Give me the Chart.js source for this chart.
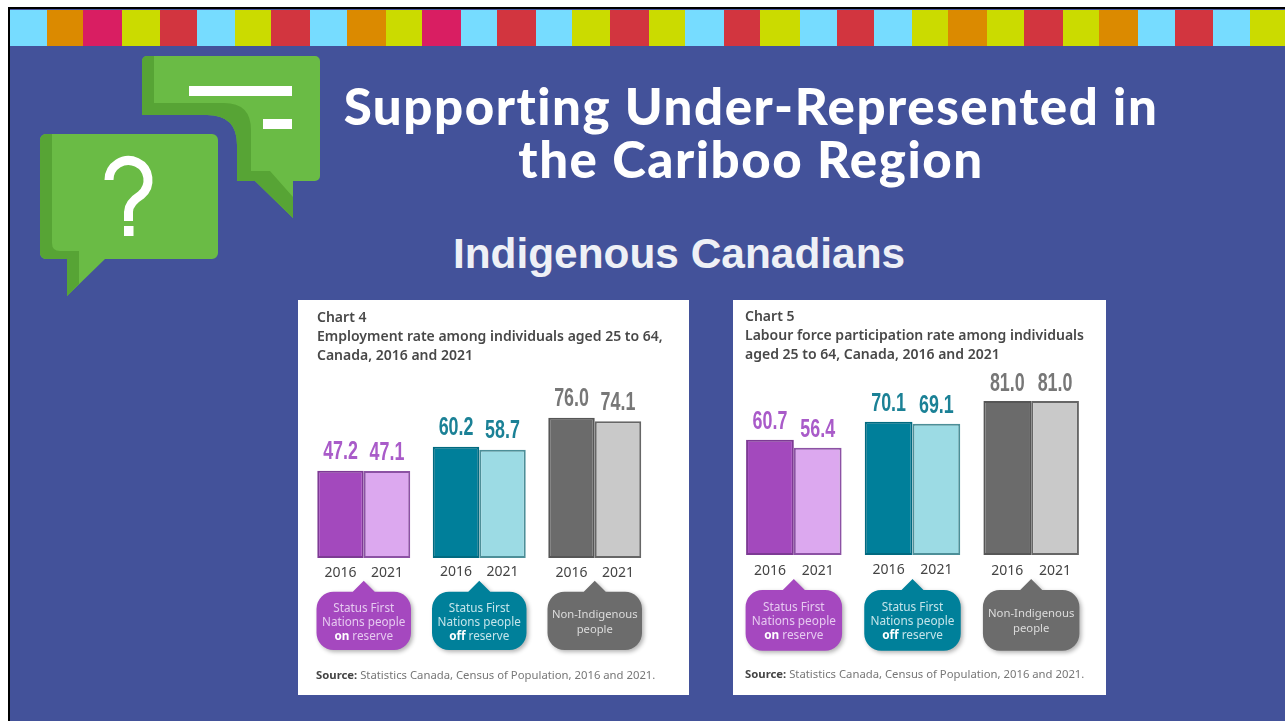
<!DOCTYPE html>
<html>
<head>
<meta charset="utf-8">
<title>Supporting Under-Represented in the Cariboo Region</title>
<script src="https://cdn.jsdelivr.net/npm/chart.js@4"></script>
<style>
html, body { margin: 0; padding: 0; background: #fff; }
#slide { position: absolute; left: 0; top: 0; width: 1285px; height: 721px; overflow: hidden; background: #fff; }
#frame { position: absolute; left: 8px; top: 7px; width: 1277px; height: 714px; background: #43529a; border-left: 2.5px solid #000; border-top: 2.5px solid #000; box-sizing: border-box; }
.stripe { position: absolute; top: 9.5px; height: 36px; }
#icon { position: absolute; left: 0; top: 0; filter: blur(0.4px); }
.heading { position: absolute; color: #fff; white-space: nowrap; text-align: center; }
#mainTitle { left: 301px; width: 900px; top: 79px; font: 900 51px/53px Lato, sans-serif; letter-spacing: 1.55px; }
#subTitle { left: 379px; width: 600px; top: 231px; font: bold 42.4px/46px "Liberation Sans", sans-serif; color: #eef0f6; }
.card { position: absolute; top: 300px; height: 395px; background: #fff; filter: blur(0.4px); }
.card canvas { position: absolute; left: 0; top: 0; }
.cardText { position: absolute; white-space: nowrap; font-family: "Noto Sans", sans-serif; color: #484848; }
.chartTitle { font-size: 14px; font-weight: 600; line-height: 19px; }
.source { font-size: 11.3px; color: #777; }
.source b { color: #444; }
</style>
</head>
<body>
<div id="slide">
  <div id="frame"></div>
  <div id="stripes"></div>
  <svg id="icon" width="340" height="300">
    <path fill="#6abb45" d="M147 56H315a5 5 0 0 1 5 5V176a5 5 0 0 1 -5 5H293V218L255 181H237V145Q237 115 207 115H142V61a5 5 0 0 1 5 -5Z"/>
    <path fill="#57a435" d="M154 56H147a5 5 0 0 0 -5 5V115H207Q237 115 237 145V181H255L293 218V197L270 171H251V130Q251 103 224 103H154Z"/>
    <rect x="189" y="86" width="103" height="10" fill="#fff"/>
    <rect x="263" y="119" width="29" height="10" fill="#fff"/>
    <path fill="#6abb45" d="M46 134H212a6 6 0 0 1 6 6V253a6 6 0 0 1 -6 6H105L67 296V259H46a6 6 0 0 1 -6 -6V140a6 6 0 0 1 6 -6Z"/>
    <path fill="#57a435" d="M52 134H46a6 6 0 0 0 -6 6V253a6 6 0 0 0 6 6H67V296L79 284V251H60Q52 251 52 243Z"/>
    <path fill="none" stroke="#fff" stroke-width="9" d="M109 180A19.500 19.500 0 1 1 141 195Q128.500 203 128.500 212V221"/>
    <rect x="124" y="226" width="9.500" height="10" fill="#fff"/>
  </svg>
  <div id="mainTitle" class="heading">Supporting Under-Represented in<br>the Cariboo Region</div>
  <div id="subTitle" class="heading">Indigenous Canadians</div>

  <div class="card" style="left:298px;width:391px">
    <canvas id="chart4"></canvas>
    <div class="cardText chartTitle" style="left:19px;top:7px">Chart 4<br>Employment rate among individuals aged 25 to 64,<br>Canada, 2016 and 2021</div>
    <div class="cardText source" style="left:18px;top:367px"><b>Source:</b> Statistics Canada, Census of Population, 2016 and 2021.</div>
  </div>
  <div class="card" style="left:733px;width:373px">
    <canvas id="chart5"></canvas>
    <div class="cardText chartTitle" style="left:12px;top:6px">Chart 5<br>Labour force participation rate among individuals<br>aged 25 to 64, Canada, 2016 and 2021</div>
    <div class="cardText source" style="left:12px;top:366px"><b>Source:</b> Statistics Canada, Census of Population, 2016 and 2021.</div>
  </div>
</div>

<script>
// Values
const years = ['2016', '2021'];
const groups = ['on reserve', 'off reserve', 'non-Indigenous'];
const employment2016 = [47.2, 60.2, 76.0];
const employment2021 = [47.1, 58.7, 74.1];
const participation2016 = [60.7, 70.1, 81.0];
const participation2021 = [56.4, 69.1, 81.0];

// Speech bubble captions, the pair is [text, bold]
const bubbleLines = [
    [[['Status First', false]], [['Nations people', false]], [['on', true], [' reserve', false]]],
    [[['Status First', false]], [['Nations people', false]], [['off', true], [' reserve', false]]],
    [[['Non-Indigenous', false]], [['people', false]]]
];

// Colours per group
const fill2016 = ['#a349bd', '#007f9a', '#6b6b6b'];
const fill2021 = ['#dca8ef', '#9cdbe4', '#c9c9c9'];
const border2016 = ['#7d3a94', '#006a80', '#565656'];
const border2021 = ['#8c52a4', '#4d8f98', '#666666'];
const valueColors = ['#a95bc9', '#1b8196', '#777777'];
const bubbleColors = ['#a548bf', '#00809a', '#6c6c6c'];
const bubbleTextColors = ['#e6c9f0', '#c4e4ea', '#dcdcdc'];

// Top colour strip of the slide
const stripeEdges = [10, 47, 83, 122, 160, 197, 235, 271, 310, 347, 386, 422, 461, 497, 536, 572, 610, 649, 685, 724, 760, 800, 837, 874, 912, 948, 987, 1024, 1063, 1099, 1138, 1175, 1213, 1250, 1285];
const stripeColors = 'cOPLRcLRcOLPcRcLRLcRLcRcLOLRLOcRcL';
const stripeMap = { c: '#76dcff', O: '#db8a00', P: '#d91e62', L: '#cbdb00', R: '#d2353f' };

const stripes = document.getElementById('stripes');
stripeColors.split('').forEach((key, i) => {
    const d = document.createElement('div');
    d.className = 'stripe';
    d.style.left = stripeEdges[i] + 'px';
    d.style.width = (stripeEdges[i + 1] - stripeEdges[i]) + 'px';
    d.style.background = stripeMap[key];
    stripes.appendChild(d);
});

// Draws value labels, years and the bubbles from the bar positions
const barLabels = {
    id: 'barLabels',
    afterDatasetsDraw(chart, args, opts) {
        const ctx = chart.ctx;
        const base = chart.scales.y.getPixelForValue(0);
        ctx.save();
        chart.data.datasets.forEach((ds, d) => {
            chart.getDatasetMeta(d).data.forEach((bar, i) => {
                ctx.textAlign = 'center';
                ctx.textBaseline = 'alphabetic';
                // no condensed font installed, so squeeze it
                ctx.save();
                ctx.translate(bar.x, bar.y - opts.valueGap);
                ctx.scale(0.7, 1);
                ctx.font = 'bold 25.500px "Liberation Sans", sans-serif';
                ctx.fillStyle = valueColors[i];
                ctx.fillText(ds.data[i].toFixed(1), 0, 0);
                ctx.restore();
                ctx.font = '14px "Noto Sans", sans-serif';
                ctx.fillStyle = '#444';
                // middle group sits a little higher in the source
                ctx.fillText(years[d], bar.x, base + opts.yearGap - (i === 1 ? 1.5 : 0));
            });
        });
        groups.forEach((g, i) => {
            drawBubble(ctx, chart.scales.x.getPixelForValue(i), opts, i);
        });
        ctx.restore();
    }
};

function drawBubble(ctx, cx, opts, i) {
    const half = opts.bubbleWidth / 2;
    const top = opts.bubbleTop;
    const bottom = opts.bubbleBottom;
    ctx.save();
    ctx.shadowColor = 'rgba(0,0,0,0.3)';
    ctx.shadowBlur = 4;
    ctx.shadowOffsetX = 2;
    ctx.shadowOffsetY = 2;
    ctx.fillStyle = bubbleColors[i];
    ctx.beginPath();
    ctx.moveTo(cx - 11, top);
    ctx.lineTo(cx, top - 11);
    ctx.lineTo(cx + 11, top);
    ctx.arcTo(cx + half, top, cx + half, bottom, 17);
    ctx.arcTo(cx + half, bottom, cx - half, bottom, 17);
    ctx.arcTo(cx - half, bottom, cx - half, top, 17);
    ctx.arcTo(cx - half, top, cx - 11, top, 17);
    ctx.closePath();
    ctx.fill();
    ctx.restore();

    const lines = bubbleLines[i];
    const first = lines.length === 3 ? opts.textTop : opts.textTop + 6.5;
    // the two line caption is set a little smaller
    const size = lines.length === 3 ? opts.bubbleSize : opts.bubbleSize * 0.96;
    const font = size + 'px "Noto Sans", sans-serif';
    ctx.textAlign = 'left';
    lines.forEach((line, n) => {
        let width = 0;
        line.forEach(([text, bold]) => {
            ctx.font = (bold ? 'bold ' : '') + font;
            width += ctx.measureText(text).width;
        });
        let x = cx - width / 2;
        line.forEach(([text, bold]) => {
            ctx.font = (bold ? 'bold ' : '') + font;
            ctx.fillStyle = bold ? '#ffffff' : bubbleTextColors[i];
            ctx.fillText(text, x, first + n * 14.3);
            x += ctx.measureText(text).width;
        });
    });
}

function makeChart(id, width, data2016, data2021, padding, labelOpts) {
    const canvas = document.getElementById(id);
    canvas.width = width;
    canvas.height = 395;
    return new Chart(canvas, {
        type: 'bar',
        data: {
            labels: groups,
            datasets: [
                { label: years[0], data: data2016, backgroundColor: fill2016, borderColor: border2016, borderWidth: 2, borderSkipped: false },
                { label: years[1], data: data2021, backgroundColor: fill2021, borderColor: border2021, borderWidth: 2, borderSkipped: false }
            ]
        },
        plugins: [barLabels],
        options: {
            responsive: false,
            animation: false,
            layout: { padding: padding },
            datasets: { bar: { categoryPercentage: 0.805, barPercentage: 1 } },
            scales: {
                x: { display: false },
                y: { display: false, min: 0, max: 100 }
            },
            plugins: {
                legend: { display: false },
                tooltip: { enabled: false },
                barLabels: labelOpts
            }
        }
    });
}

makeChart('chart4', 391, employment2016, employment2021,
    { left: 8, right: 36.5, top: 73.4, bottom: 137 },
    { valueGap: 11.5, yearGap: 19, bubbleWidth: 94.5, bubbleTop: 291.7, bubbleBottom: 350, textTop: 311.7, bubbleSize: 11.7 });

makeChart('chart5', 373, participation2016, participation2021,
    { left: 1.5, right: 15.5, top: 65, bottom: 140 },
    { valueGap: 10.5, yearGap: 20, bubbleWidth: 96.5, bubbleTop: 290, bubbleBottom: 350.7, textTop: 310.7, bubbleSize: 11.8 });
</script>
</body>
</html>
